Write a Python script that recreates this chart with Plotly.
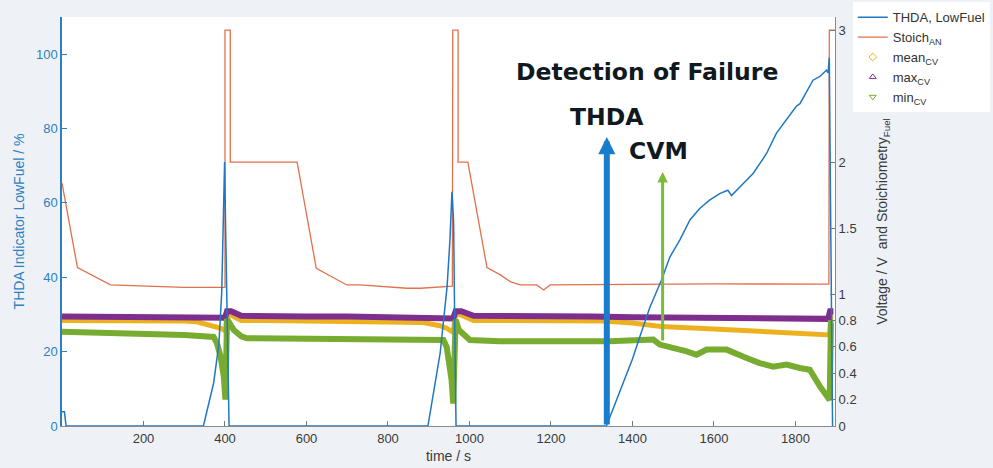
import plotly.graph_objects as go

# ---------------- data ----------------
thda_time = [0, 6, 10, 347, 372, 385, 392, 396, 399, 402, 406, 410,
             898, 928, 945, 952, 957, 961, 964, 967,
             1336, 1350, 1365, 1381, 1400, 1418, 1443, 1471, 1492, 1516, 1541, 1565,
             1590, 1614, 1634, 1643, 1663, 1680, 1696, 1712, 1729, 1753, 1778, 1802,
             1811, 1843, 1860, 1876, 1880, 1883, 1886, 1891]
thda_value = [3.8, 3.8, 0, 0, 11.5, 22, 36, 55, 71, 50, 25, 0,
              0, 19.6, 37.4, 50, 63, 55, 25, 0,
              0, 4, 8, 12.4, 18, 24, 32, 39.2, 45.5, 50, 55.4, 58.5,
              60.8, 62.5, 63.4, 62, 64.3, 66, 67.9, 70.5, 73.3, 78.7, 82.3, 86,
              86.7, 93, 94, 95.7, 95, 99, 60, 0]

stoich_time = [0, 38, 119, 273, 300, 400, 400, 413, 413, 577, 624, 699, 732, 847, 880, 958,
               959, 972, 972, 996, 1043, 1076, 1100, 1124, 1165, 1182, 1198, 1600, 1882,
               1883, 1897]
stoich_value = [1.84, 1.20, 1.07, 1.056, 1.05, 1.05, 3.0, 3.0, 2.0, 2.0, 1.195, 1.069, 1.069,
                1.044, 1.044, 1.06, 3.0, 3.0, 2.0, 2.0, 1.20, 1.145, 1.094, 1.069, 1.069,
                1.031, 1.069, 1.077, 1.075, 3.0, 3.0]

mean_time = [0, 100, 200, 300, 331, 372, 390, 401, 405, 415, 440, 500, 683, 800, 886, 928,
             945, 960, 966, 980, 1010, 1100, 1330, 1400, 1470, 1600, 1700, 1800, 1884,
             1887, 1893]
mean_value = [0.80, 0.80, 0.80, 0.795, 0.79, 0.76, 0.74, 0.72, 0.85, 0.84, 0.80, 0.80, 0.795,
              0.79, 0.785, 0.76, 0.74, 0.71, 0.85, 0.84, 0.80, 0.80, 0.795, 0.78, 0.755,
              0.735, 0.72, 0.705, 0.69, 0.84, 0.84]

max_time = [0, 100, 200, 300, 380, 400, 405, 415, 440, 500, 600, 700, 800, 900, 960, 966,
            980, 1010, 1100, 1200, 1300, 1400, 1500, 1600, 1700, 1800, 1880, 1885, 1893]
max_value = [0.83, 0.83, 0.83, 0.825, 0.82, 0.82, 0.87, 0.87, 0.835, 0.83, 0.83, 0.83, 0.825,
             0.82, 0.815, 0.87, 0.87, 0.835, 0.83, 0.83, 0.83, 0.825, 0.82, 0.82, 0.81,
             0.812, 0.812, 0.87, 0.87]

min_time = [0, 100, 200, 300, 372, 380, 389, 397, 401, 405, 421, 440, 454, 600, 800, 936,
            944, 950, 956, 960, 966, 974, 1001, 1074, 1344, 1451, 1467, 1533, 1557, 1582,
            1631, 1680, 1712, 1745, 1778, 1811, 1835, 1860, 1884, 1887, 1893]
min_value = [0.715, 0.71, 0.70, 0.69, 0.675, 0.63, 0.53, 0.375, 0.2, 0.81, 0.73, 0.68, 0.665,
             0.662, 0.655, 0.652, 0.60, 0.47, 0.35, 0.17, 0.805, 0.728, 0.652, 0.642, 0.642,
             0.655, 0.617, 0.566, 0.54, 0.579, 0.579, 0.516, 0.477, 0.45, 0.465, 0.44, 0.426,
             0.30, 0.198, 0.78, 0.78]

x_ticks = [200, 400, 600, 800, 1000, 1200, 1400, 1600, 1800]
left_ticks = [0, 20, 40, 60, 80, 100]
right_ticks = [0, 0.2, 0.4, 0.6, 0.8, 1, 1.5, 2, 3]
right_ticktext = ["0", "0.2", "0.4", "0.6", "0.8", "1", "1.5", "2", "3"]

# detection events (time / s) and arrow extents (THDA %)
thda_detect_t = 1337
cvm_detect_t = 1474
thda_arrow = (0, 77.7)
cvm_arrow = (22.6, 68.3)

# ---------------- styling ----------------
BLUE = "#1f78c1"
ORANGE = "#e2704b"
YELLOW = "#EDB120"
PURPLE = "#7E2F8E"
GREEN = "#77AC30"
AXIS_BLUE = "#2d7fc1"
TXT = "#3a3a3a"
FONT = "Liberation Sans"

fig = go.Figure()

fig.add_trace(go.Scatter(x=thda_time, y=thda_value, mode="lines", name="THDA, LowFuel",
                         line=dict(color=BLUE, width=1.5), yaxis="y2"))
fig.add_trace(go.Scatter(x=stoich_time, y=stoich_value, mode="lines", name="Stoich<sub>AN</sub>",
                         line=dict(color=ORANGE, width=1.3), yaxis="y"))

fig.add_trace(go.Scatter(x=mean_time, y=mean_value, mode="lines", showlegend=False,
                         line=dict(color=YELLOW, width=5), yaxis="y", legendgroup="mean"))
fig.add_trace(go.Scatter(x=max_time, y=max_value, mode="lines", showlegend=False,
                         line=dict(color=PURPLE, width=6), yaxis="y", legendgroup="max"))
fig.add_trace(go.Scatter(x=min_time, y=min_value, mode="lines", showlegend=False,
                         line=dict(color=GREEN, width=6), yaxis="y", legendgroup="min"))

# legend entries (marker symbols as in the reference legend)
for nm, col, sym, grp in [("mean<sub>CV</sub>", YELLOW, "diamond-open", "mean"),
                          ("max<sub>CV</sub>", PURPLE, "triangle-up-open", "max"),
                          ("min<sub>CV</sub>", GREEN, "triangle-down-open", "min")]:
    fig.add_trace(go.Scatter(x=[None], y=[None], mode="markers", name=nm, legendgroup=grp,
                             marker=dict(color=col, symbol=sym, size=6, line=dict(width=1)),
                             yaxis="y"))

# arrows
fig.add_annotation(x=thda_detect_t, y=thda_arrow[1], ax=thda_detect_t, ay=thda_arrow[0],
                   xref="x", yref="y2", axref="x", ayref="y2", showarrow=True, text="",
                   arrowhead=2, arrowsize=0.57, arrowwidth=6, arrowcolor="#1a7dcc", standoff=0)
fig.add_annotation(x=cvm_detect_t, y=cvm_arrow[1], ax=cvm_detect_t, ay=cvm_arrow[0],
                   xref="x", yref="y2", axref="x", ayref="y2", showarrow=True, text="",
                   arrowhead=2, arrowsize=0.7, arrowwidth=3, arrowcolor="#7cba3b", standoff=0)

bold = dict(family="DejaVu Sans", size=23.5, color="#101820", weight="bold")
fig.add_annotation(x=1435, y=95.2, xref="x", yref="y2", text="Detection of Failure",
                   showarrow=False, font=bold)
fig.add_annotation(x=1338, y=83, xref="x", yref="y2", text="THDA", showarrow=False, font=bold)
fig.add_annotation(x=1464, y=74, xref="x", yref="y2", text="CVM", showarrow=False, font=bold)

fig.update_layout(
    width=993, height=468,
    margin=dict(l=62, r=158, t=17, b=42, autoexpand=False),
    paper_bgcolor="#eef2f6", plot_bgcolor="white",
    font=dict(family=FONT, size=13, color=TXT),
    legend=dict(x=1.023, y=1.036, xanchor="left", yanchor="top", bgcolor="white",
                font=dict(family=FONT, size=13, color="#333333"), tracegroupgap=0),
    xaxis=dict(range=[0, 1897], tickvals=x_ticks, ticks="inside", ticklen=5,
               tickcolor="#777", showline=True, linecolor="#8a8a8a", linewidth=1,
               showgrid=False, zeroline=False, tickfont=dict(size=13, color=TXT),
               title=dict(text="time / s", font=dict(size=14, color=TXT), standoff=6)),
    yaxis=dict(range=[0, 3.1], side="right", tickvals=right_ticks, ticktext=right_ticktext,
               ticks="inside", ticklen=5, tickcolor="#777", showline=True,
               linecolor="#8a8a8a", showgrid=False, zeroline=False,
               tickfont=dict(size=13, color=TXT),
               title=dict(text="Voltage / V  and Stoichiometry<sub>Fuel</sub>",
                          font=dict(size=14, color=TXT), standoff=21)),
    yaxis2=dict(range=[0, 110], side="left", overlaying="y", tickvals=left_ticks,
                ticks="inside", ticklen=5, tickcolor=AXIS_BLUE, showline=True,
                linecolor=AXIS_BLUE, linewidth=1.5, showgrid=False, zeroline=False,
                tickfont=dict(size=13, color=AXIS_BLUE),
                title=dict(text="THDA Indicator LowFuel / %",
                           font=dict(size=14, color=AXIS_BLUE), standoff=8)),
)

fig.write_html("out.html", config={"displayModeBar": False},
               post_script="document.body.style.margin='0';")
